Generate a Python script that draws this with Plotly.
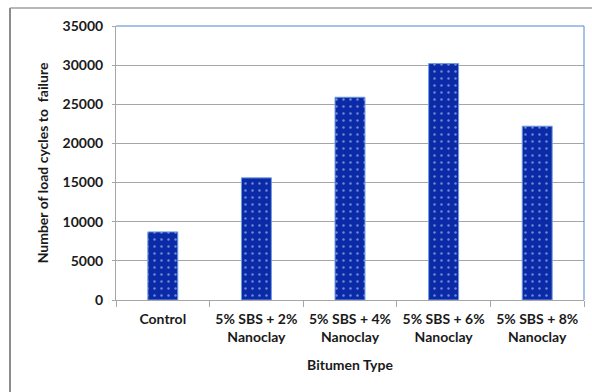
import plotly.graph_objects as go

# Fatigue test results per binder type
categories = [
    "Control",
    "5% SBS + 2%<br>Nanoclay",
    "5% SBS + 4%<br>Nanoclay",
    "5% SBS + 6%<br>Nanoclay",
    "5% SBS + 8%<br>Nanoclay",
]
cycles = [8700, 15600, 25900, 30200, 22200]
y_ticks = [0, 5000, 10000, 15000, 20000, 25000, 30000, 35000]

font_family = "Lato, 'Open Sans', sans-serif"
bar_blue = "#0a2aa8"
frame_blue = "#4f86d8"
grid_gray = "#a6a6a6"

fig = go.Figure(
    go.Bar(
        x=categories,
        y=cycles,
        width=0.32,
        marker=dict(
            color=bar_blue,
            line=dict(color="#6f9be0", width=1),
            pattern=dict(
                shape=".",
                fgcolor="#d8e6ff",
                bgcolor=bar_blue,
                size=7,
                solidity=0.1,
            ),
        ),
        showlegend=False,
    )
)

fig.update_layout(
    width=592,
    height=392,
    margin=dict(l=116, r=8, t=26, b=92),
    paper_bgcolor="white",
    plot_bgcolor="white",
    font=dict(family=font_family, size=14, color="#1a1a1a", weight="bold"),
    xaxis=dict(
        title=dict(text="Bitumen Type", standoff=16,
                   font=dict(size=14, weight="bold")),
        automargin=False,
        tickangle=0,
        showline=True,
        linecolor=grid_gray,
        linewidth=1,
        ticks="outside",
        tickson="boundaries",
        ticklen=6,
        tickcolor=grid_gray,
        ticklabelstandoff=6,
        tickfont=dict(size=14, weight="bold"),
        showgrid=False,
    ),
    yaxis=dict(
        title=dict(text="Number of load cycles to  failure", standoff=10,
                   font=dict(size=14, weight="bold")),
        automargin=False,
        range=[0, 35000],
        tickvals=y_ticks,
        ticktext=[str(v) for v in y_ticks],
        showline=True,
        linecolor=grid_gray,
        linewidth=1,
        ticks="outside",
        ticklen=3,
        tickcolor=grid_gray,
        ticklabelstandoff=6,
        showgrid=True,
        gridcolor=grid_gray,
        gridwidth=1,
        zeroline=False,
        tickfont=dict(size=14, weight="bold"),
    ),
    shapes=[
        # blue top and right border of the plot area
        dict(type="line", xref="paper", yref="paper", x0=0, x1=1, y0=1, y1=1,
             line=dict(color=frame_blue, width=1)),
        dict(type="line", xref="paper", yref="paper", x0=1, x1=1, y0=0, y1=1,
             line=dict(color=frame_blue, width=1)),
        # outer chart frame (top and left edges)
        dict(type="line", xref="paper", yref="paper",
             x0=-106 / 468, x1=1 + 8 / 468, y0=1 + 18 / 274, y1=1 + 18 / 274,
             line=dict(color="#b8b8b8", width=2)),
        dict(type="line", xref="paper", yref="paper",
             x0=-106 / 468, x1=-106 / 468, y0=-92 / 274, y1=1 + 18 / 274,
             line=dict(color="#8c8c8c", width=2)),
    ],
)

fig.write_html("out.html")
